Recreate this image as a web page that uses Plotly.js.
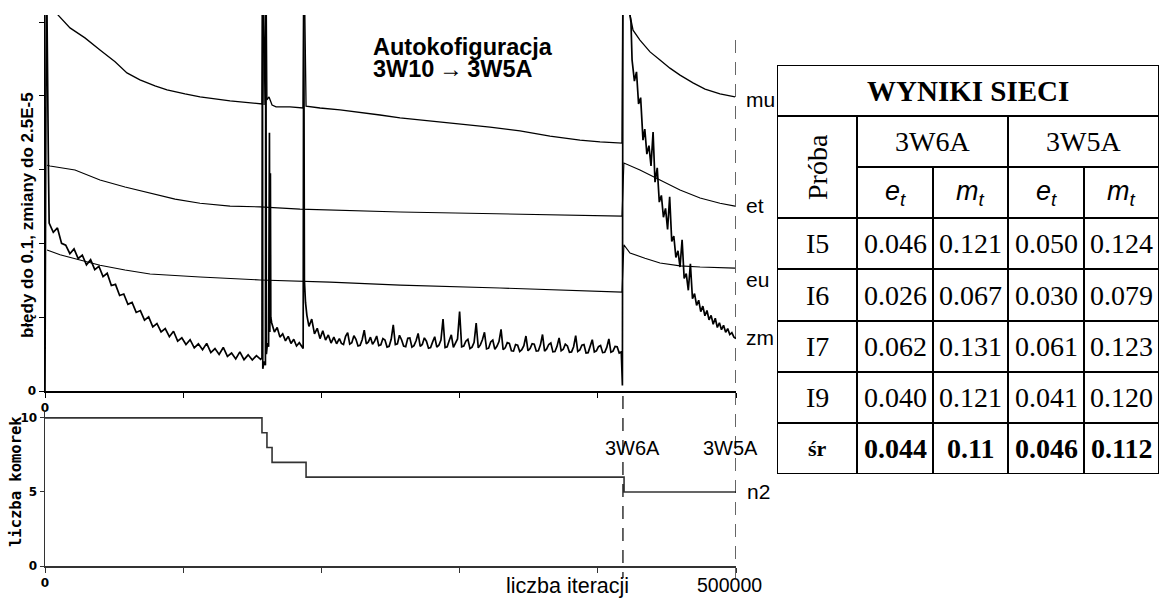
<!DOCTYPE html>
<html><head><meta charset="utf-8">
<script src="https://cdn.plot.ly/plotly-3.0.1.min.js"></script>
<style>html,body{margin:0;padding:0;background:#fff}#chart{width:1160px;height:601px}</style>
</head><body><div id="chart"></div>
<script>
// ---------------- DATA ----------------
const phaseX = [418200, 500000];            // 3W6A switch, 3W5A end
const phaseLabels = ["3W6A", "3W5A"];
const xTicks = [0, 100000, 200000, 300000, 400000, 500000];
const titleLines = ["Autokofiguracja", "3W10\u2009\u2192\u20093W5A"];

const muX = [1500, 9400, 18100, 28900, 39800, 50700, 59300, 68700, 79600, 88300, 101300, 112200, 133900, 155600, 157000, 157700, 158500, 159900, 160600, 162100, 164300, 167200, 177300, 186700, 187400, 188900, 199000, 213500, 227900, 242400, 256900, 278600, 300300, 322000, 343700, 365400, 387100, 401600, 417500, 418200, 423300, 425500, 430500, 437800, 445000, 452200, 459500, 468900, 477600, 488400, 499300];
const muY = [0.120, 0.1019, 0.0984, 0.0957, 0.0924, 0.0892, 0.0862, 0.0843, 0.0827, 0.0816, 0.0805, 0.0797, 0.0786, 0.0778, 0.0778, 0.120, 0.0775, 0.120, 0.0789, 0.0797, 0.0775, 0.0770, 0.0770, 0.0767, 0.120, 0.0772, 0.0767, 0.0762, 0.0756, 0.0748, 0.0740, 0.0732, 0.0724, 0.0715, 0.0705, 0.0691, 0.0680, 0.0675, 0.0672, 0.120, 0.1019, 0.0978, 0.0951, 0.0919, 0.0897, 0.0875, 0.0856, 0.0835, 0.0818, 0.0805, 0.0797];

const etX = [1500, 3600, 21700, 39800, 57900, 76000, 94100, 112200, 133900, 155600, 184500, 256900, 329200, 417500, 418900, 430500, 445000, 459500, 474000, 488400, 499300];
const etY = [0.0612, 0.0610, 0.0599, 0.0572, 0.0553, 0.0537, 0.0520, 0.0509, 0.0501, 0.0499, 0.0493, 0.0485, 0.0480, 0.0474, 0.0618, 0.0599, 0.0572, 0.0545, 0.0523, 0.0509, 0.0501];

const euX = [1500, 10900, 25300, 39800, 57900, 76000, 112200, 155600, 206200, 256900, 329200, 417500, 418900, 423300, 434100, 445000, 459500, 474000, 499300];
const euY = [0.0382, 0.0369, 0.0355, 0.0341, 0.0328, 0.0317, 0.0309, 0.0301, 0.0295, 0.0287, 0.0279, 0.0268, 0.0396, 0.0374, 0.0360, 0.0347, 0.0339, 0.0336, 0.0333];

// zm, part 1: start .. first reconfiguration spikes
const zmStartX = [0, 1000, 2500, 3000, 6000, 9000, 12000, 15000, 18000, 21000, 24000, 27000, 30000, 33000, 36000, 39000, 42000, 45000, 48000, 51000, 54000, 57000, 60000, 63000, 66000, 69000, 72000, 75000, 78000, 81000, 84000, 87000, 90000, 93000, 96000, 99000, 102000, 105000, 108000, 111000, 114000, 117000, 120000, 123000, 126000, 129000, 132000, 135000, 138000, 141000, 144000, 147000, 150000, 153000, 156000,
  157000, 157300, 157600, 158500, 159500, 159800, 160200, 161000, 161800, 162400, 162700, 163100, 163400, 164000, 166000, 168000, 170000, 172000, 174000, 176000, 178000, 180000, 182000, 184000, 186000, 186800, 187200, 187700, 188500, 189500, 191000, 193000, 195000, 197000, 199000, 201000, 203000, 205000, 207000, 209000, 211000];
const zmStartY = [0, 0.120, 0.0600, 0.0455, 0.0430, 0.0442, 0.0400, 0.0395, 0.0372, 0.0385, 0.0359, 0.0368, 0.0342, 0.0356, 0.0329, 0.0338, 0.0310, 0.0319, 0.0286, 0.0289, 0.0259, 0.0263, 0.0235, 0.0240, 0.0213, 0.0218, 0.0192, 0.0201, 0.0174, 0.0183, 0.0160, 0.0169, 0.0147, 0.0162, 0.0135, 0.0144, 0.0126, 0.0139, 0.0117, 0.0128, 0.0112, 0.0129, 0.0104, 0.0115, 0.0099, 0.0118, 0.0094, 0.0103, 0.0087, 0.0106, 0.0085, 0.0098, 0.0084, 0.0096, 0.0086,
  0.0090, 0.1150, 0.0060, 0.0080, 0.0070, 0.1150, 0.0100, 0.0130, 0.0120, 0.0700, 0.0160, 0.0590, 0.0200, 0.0185, 0.0160, 0.0172, 0.0146, 0.0155, 0.0136, 0.0148, 0.0129, 0.0140, 0.0122, 0.0131, 0.0120, 0.0115, 0.1150, 0.0300, 0.0240, 0.0205, 0.0175, 0.0195, 0.0155, 0.0170, 0.0142, 0.0163, 0.0138, 0.0152, 0.0130, 0.0146, 0.0128];

// zm, part 2: plateau with 3W6A
const zmMidX = [213000, 214500, 216000, 217500, 219000, 220500, 222000, 223500, 225000, 226500, 228000, 229500, 231000, 232500, 234000, 235500, 237000, 238500, 240000, 241500, 243000, 244500, 246000, 247500, 249000, 250500, 252000, 253500, 255000, 256500, 258000, 259500, 261000, 262500, 264000, 265500, 267000, 268500, 270000, 271500, 273000, 274500, 276000, 277500, 279000, 280500, 282000, 283500, 285000, 286500, 288000, 289500, 291000, 292500, 294000, 295500, 297000, 298500, 300000, 301500, 303000, 304500, 306000, 307500, 309000, 310500, 312000, 313500, 315000, 316500, 318000, 319500, 321000, 322500, 324000, 325500, 327000, 328500, 330000, 331500, 333000, 334500, 336000, 337500, 339000, 340500, 342000, 343500, 345000, 346500, 348000, 349500, 351000, 352500, 354000, 355500, 357000, 358500, 360000, 361500, 363000, 364500, 366000, 367500, 369000, 370500, 372000, 373500, 375000, 376500, 378000, 379500, 381000, 382500, 384000, 385500, 387000, 388500, 390000, 391500, 393000, 394500, 396000, 397500, 399000, 400500, 402000, 403500, 405000, 406500, 408000, 409500, 411000, 412500, 414000, 415500, 417000];
const zmMidY = [0.0142, 0.0129, 0.0126, 0.0148, 0.0158, 0.0127, 0.0131, 0.0150, 0.0140, 0.0122, 0.0124, 0.0139, 0.0165, 0.0128, 0.0133, 0.0146, 0.0127, 0.0135, 0.0149, 0.0123, 0.0125, 0.0142, 0.0138, 0.0119, 0.0121, 0.0140, 0.0179, 0.0126, 0.0128, 0.0151, 0.0139, 0.0122, 0.0120, 0.0143, 0.0144, 0.0119, 0.0123, 0.0136, 0.0156, 0.0121, 0.0126, 0.0144, 0.0135, 0.0116, 0.0118, 0.0133, 0.0147, 0.0119, 0.0124, 0.0138, 0.0195, 0.0118, 0.0120, 0.0137, 0.0152, 0.0118, 0.0129, 0.0141, 0.0215, 0.0120, 0.0122, 0.0135, 0.0140, 0.0115, 0.0119, 0.0132, 0.0184, 0.0117, 0.0125, 0.0139, 0.0159, 0.0114, 0.0116, 0.0133, 0.0138, 0.0113, 0.0121, 0.0134, 0.0167, 0.0112, 0.0117, 0.0131, 0.0129, 0.0109, 0.0108, 0.0126, 0.0124, 0.0107, 0.0112, 0.0123, 0.0149, 0.0109, 0.0115, 0.0128, 0.0127, 0.0108, 0.0109, 0.0125, 0.0153, 0.0108, 0.0114, 0.0126, 0.0130, 0.0106, 0.0107, 0.0121, 0.0144, 0.0109, 0.0113, 0.0127, 0.0122, 0.0105, 0.0106, 0.0120, 0.0150, 0.0107, 0.0111, 0.0124, 0.0126, 0.0103, 0.0104, 0.0122, 0.0139, 0.0106, 0.0109, 0.0120, 0.0123, 0.0104, 0.0105, 0.0118, 0.0141, 0.0105, 0.0108, 0.0121, 0.0120, 0.0103, 0.0106];

// zm, part 3: switch to 3W6A and training of 3W5A
const zmEndX = [417800, 418200, 424000, 424800, 426500, 428000, 429500, 431000, 432700, 434000, 435500, 437000, 438500, 440000, 441400, 443000, 444500, 446000, 447500, 449000, 450500, 452000, 453500, 455000, 456500, 458000, 459500, 461000, 462500, 464000, 465500, 467000, 468500, 470000, 471500, 473000, 474500, 476000, 477500, 479000, 480500, 482000, 483500, 485000, 486500, 488000, 489500, 491000, 492500, 494000, 495500, 497000, 498500, 500000];
const zmEndY = [0.0015, 0.1150, 0.1000, 0.0897, 0.0840, 0.0865, 0.0778, 0.0795, 0.0680, 0.0710, 0.0642, 0.0665, 0.0610, 0.0702, 0.0566, 0.0605, 0.0512, 0.0530, 0.0471, 0.0495, 0.0438, 0.0526, 0.0405, 0.0420, 0.0362, 0.0380, 0.0336, 0.0410, 0.0305, 0.0318, 0.0273, 0.0345, 0.0250, 0.0264, 0.0232, 0.0246, 0.0215, 0.0230, 0.0204, 0.0218, 0.0193, 0.0205, 0.0181, 0.0197, 0.0172, 0.0185, 0.0166, 0.0178, 0.0159, 0.0169, 0.0153, 0.0158, 0.0146, 0.0142];

const n2X = [0, 157000, 160600, 164300, 188900, 419000, 500000];
const n2Y = [10, 9, 8, 7, 6, 5, 5];

const seriesLabels = ["mu", "et", "eu", "zm"];
const seriesLabelY = [0.0789, 0.0504, 0.0301, 0.0144];

// table content
const tableTitle = "WYNIKI SIECI";
const tableGroups = ["3W6A", "3W5A"];
const tableSubheads = ["<i>e<sub>t</sub></i>", "<i>m<sub>t</sub></i>", "<i>e<sub>t</sub></i>", "<i>m<sub>t</sub></i>"];
const rowLabels = ["I5", "I6", "I7", "I9", "śr"];
const w6et = ["0.046", "0.026", "0.062", "0.040", "0.044"];
const w6mt = ["0.121", "0.067", "0.131", "0.121", "0.11"];
const w5et = ["0.050", "0.030", "0.061", "0.041", "0.046"];
const w5mt = ["0.124", "0.079", "0.123", "0.120", "0.112"];

// ---------------- LAYOUT ----------------
const W = 1160, H = 601;
const px = v => v / W, py = v => 1 - v / H;
const SANS = "Liberation Sans, Arial, sans-serif";
const SERIF = "Liberation Serif, Times New Roman, serif";
const TICKF = {family: "DejaVu Sans, sans-serif", size: 12, color: "#000", weight: "bold"};

const line = (x, y, w, xa, ya, shape, color) => ({x, y, xaxis: xa, yaxis: ya, type: "scatter", mode: "lines",
  line: {color: color || "#000", width: w, shape: shape || "linear"}, hoverinfo: "skip", showlegend: false});

const zmX = zmStartX.concat(zmMidX, zmEndX);
const zmY = zmStartY.concat(zmMidY, zmEndY);

const traces = [
  line(muX, muY, 1.3, "x", "y"),
  line(etX, etY, 1.1, "x", "y"),
  line(euX, euY, 1.1, "x", "y"),
  line(zmX, zmY, 1.7, "x", "y"),
  line(n2X, n2Y, 1.6, "x2", "y2", "hv", "#333")
];

// table geometry (axis units = pixels inside the table)
const colEdges = [0, 80, 156, 231, 307, 382];
const rowEdges = [0, 51, 102, 153, 204, 256, 307, 358, 409];
const cx = (a, b) => (colEdges[a] + colEdges[b]) / 2;
const cy = (a, b) => (rowEdges[a] + rowEdges[b]) / 2;

const shapes = [];
const tl = (x0, y0, x1, y1) => shapes.push({type: "line", xref: "x3", yref: "y3", x0, y0, x1, y1, line: {color: "#000", width: 2}});
tl(colEdges[0], rowEdges[0], colEdges[5], rowEdges[0]);
tl(colEdges[0], rowEdges[8], colEdges[5], rowEdges[8]);
tl(colEdges[0], rowEdges[0], colEdges[0], rowEdges[8]);
tl(colEdges[5], rowEdges[0], colEdges[5], rowEdges[8]);
tl(colEdges[0], rowEdges[1], colEdges[5], rowEdges[1]);
tl(colEdges[1], rowEdges[2], colEdges[5], rowEdges[2]);
for (let r = 3; r <= 7; r++) tl(colEdges[0], rowEdges[r], colEdges[5], rowEdges[r]);
tl(colEdges[1], rowEdges[1], colEdges[1], rowEdges[8]);
tl(colEdges[3], rowEdges[1], colEdges[3], rowEdges[8]);
tl(colEdges[2], rowEdges[2], colEdges[2], rowEdges[8]);
tl(colEdges[4], rowEdges[2], colEdges[4], rowEdges[8]);

// dashed phase lines
const DASH = {color: "#000", width: 1.2, dash: "13px,9px"};
shapes.push({type: "line", xref: "x", yref: "paper", x0: phaseX[0], x1: phaseX[0], y0: py(396), y1: py(578), line: DASH});
shapes.push({type: "line", xref: "x", yref: "paper", x0: phaseX[1], x1: phaseX[1], y0: py(40), y1: py(578), line: DASH});

const ann = [];
const A = o => ann.push(Object.assign({showarrow: false}, o));
const LBL = {family: SANS, size: 21, color: "#000"};

// chart labels
seriesLabels.forEach((t, i) => A({text: t, x: phaseX[1], y: seriesLabelY[i], xref: "x", yref: "y", xanchor: "left", xshift: 8, font: LBL}));
A({text: "n2", x: phaseX[1], y: 5.0, xref: "x2", yref: "y2", xanchor: "left", xshift: 9, font: LBL});
A({text: phaseLabels[0], x: phaseX[0], y: 7.96, xref: "x2", yref: "y2", xanchor: "center", xshift: 10, font: {family: SANS, size: 20, color: "#000"}});
A({text: phaseLabels[1], x: phaseX[1], y: 7.96, xref: "x2", yref: "y2", xanchor: "center", xshift: -6, font: {family: SANS, size: 20, color: "#000"}});
// two-line title: line spacing from the 17px base font, glyphs enlarged by span style
A({text: titleLines.map(t => "<span style='font-size:23.5px'>" + t + "</span>").join("<br>"), x: px(371), y: py(58), xref: "paper", yref: "paper",
  xanchor: "left", yanchor: "middle", align: "left", font: {family: SANS, size: 17, color: "#000", weight: "bold"}});
A({text: "błędy do 0.1, zmiany do 2.5E-5", textangle: -90, x: px(27), y: py(215), xref: "paper", yref: "paper", xanchor: "center", yanchor: "middle", font: {family: SANS, size: 17, color: "#000", weight: "bold"}});
A({text: "liczba komorek", textangle: -90, x: px(16), y: py(482), xref: "paper", yref: "paper", xanchor: "center", yanchor: "middle", font: {family: "DejaVu Sans Mono, monospace", size: 15.5, color: "#000", weight: "bold"}});
A({text: "liczba iteracji", x: px(567), y: py(586), xref: "paper", yref: "paper", xanchor: "center", yanchor: "middle", font: {family: SANS, size: 21.5, color: "#000"}});
A({text: "500000", x: phaseX[1], y: py(585), xref: "x2", yref: "paper", xanchor: "center", yanchor: "middle", xshift: -7, font: {family: SANS, size: 19.5, color: "#000"}});

// table texts
const TF = (size, extra) => Object.assign({family: SERIF, size, color: "#000"}, extra || {});
const T = (text, x, y, font, angle) => A({text, x, y, xref: "x3", yref: "y3", xanchor: "center", yanchor: "middle", font, textangle: angle || 0});
T(tableTitle, cx(0, 5), cy(0, 1), TF(29, {weight: "bold"}));
T("Próba", cx(0, 1), cy(1, 3), TF(28), -90);
T(tableGroups[0], cx(1, 3), cy(1, 2), TF(28));
T(tableGroups[1], cx(3, 5), cy(1, 2), TF(28));
tableSubheads.forEach((t, i) => T(t, cx(i + 1, i + 2), cy(2, 3), {family: SANS, size: 27, color: "#000"}));
const cols = [w6et, w6mt, w5et, w5mt];
rowLabels.forEach((lab, r) => {
  const last = r === rowLabels.length - 1;
  T(lab, cx(0, 1), cy(r + 3, r + 4), last ? TF(22, {weight: "bold"}) : TF(28));
  cols.forEach((c, i) => T(c[r], cx(i + 1, i + 2), cy(r + 3, r + 4), last ? TF(28, {weight: "bold"}) : TF(28)));
});

const xDom = [px(45), px(736)];
const baseX = {range: [0, 500000], showgrid: false, zeroline: false, showline: true, linewidth: 1.5,
  ticks: "outside", ticklen: 5, tickwidth: 1, tickvals: xTicks, ticktext: ["0", "", "", "", "", ""], tickfont: TICKF, fixedrange: true};

const layout = {
  width: W, height: H, margin: {l: 0, r: 0, t: 0, b: 0}, paper_bgcolor: "#fff", plot_bgcolor: "rgba(0,0,0,0)",
  showlegend: false,
  xaxis: Object.assign({}, baseX, {domain: xDom, anchor: "y", linecolor: "#000", tickcolor: "#000"}),
  yaxis: {domain: [py(391), py(15)], range: [0, 0.1019], anchor: "x", showgrid: false, zeroline: false, showline: true, linecolor: "#000", linewidth: 1.5,
    ticks: "outside", ticklen: 5, tickwidth: 1, tickcolor: "#000", tickvals: [0, 0.02, 0.04, 0.06, 0.08, 0.1], ticktext: ["0", "", "", "", "", ""], tickfont: TICKF, fixedrange: true},
  xaxis2: Object.assign({}, baseX, {domain: xDom, anchor: "y2", linecolor: "#333", tickcolor: "#333"}),
  yaxis2: {domain: [py(566), py(412)], range: [0, 10.4], anchor: "x2", showgrid: false, zeroline: false, showline: true, linecolor: "#333", linewidth: 1.5,
    ticks: "outside", ticklen: 4, tickwidth: 1, tickcolor: "#333", tickvals: [0, 5, 10], ticktext: ["0", "5", "10"], tickfont: TICKF, fixedrange: true},
  xaxis3: {domain: [px(777), px(1159)], range: [colEdges[0], colEdges[5]], anchor: "y3", visible: false, fixedrange: true},
  yaxis3: {domain: [py(474), py(65)], range: [rowEdges[8], rowEdges[0]], anchor: "x3", visible: false, fixedrange: true},
  shapes, annotations: ann
};

Plotly.newPlot("chart", traces, layout, {displayModeBar: false, staticPlot: true});
</script></body></html>
